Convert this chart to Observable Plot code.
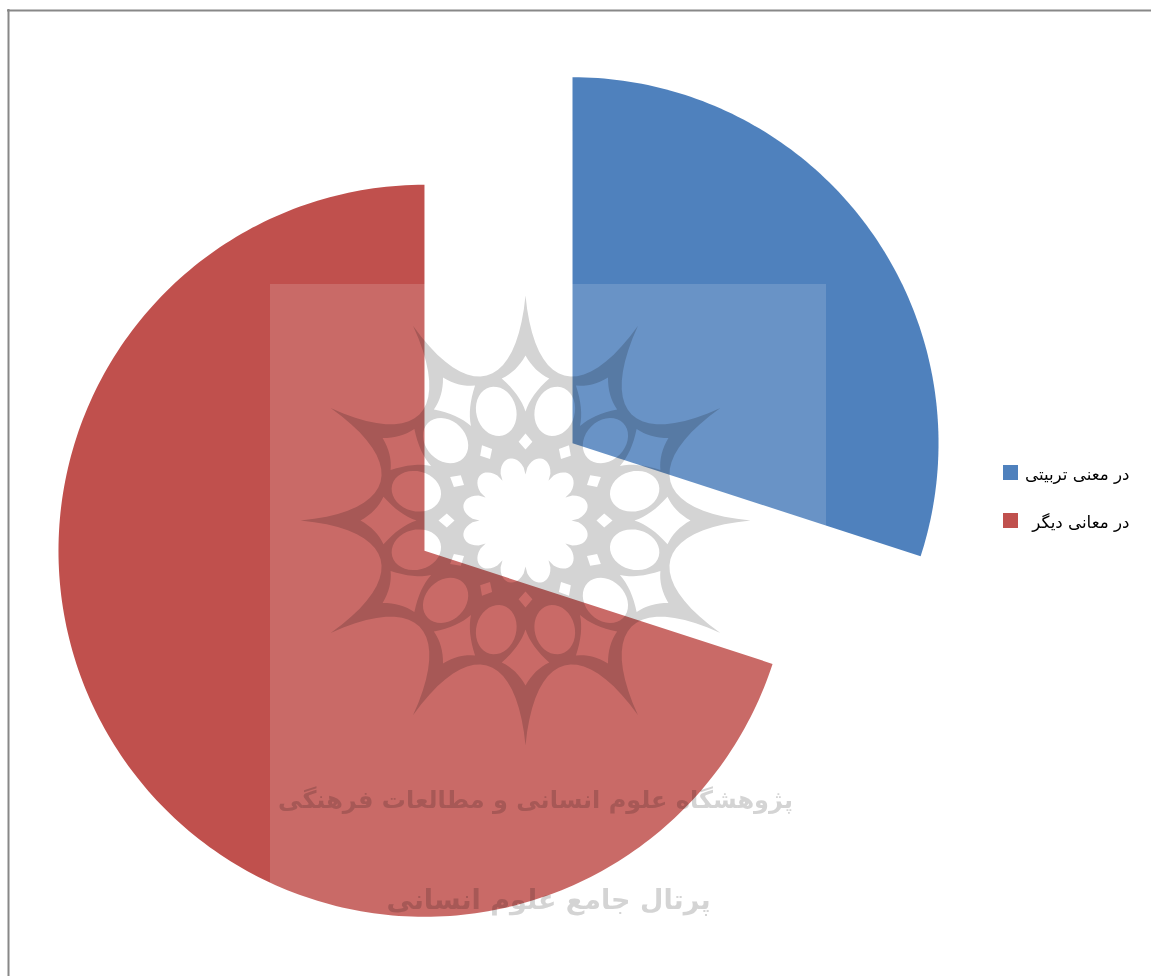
<!DOCTYPE html>
<html lang="fa">
<head>
<meta charset="utf-8">
<style>html,body{margin:0;padding:0;background:#fff}svg{display:block}svg path{fill-rule:evenodd}</style>
<script src="https://cdn.jsdelivr.net/npm/d3@7"></script>
<script src="https://cdn.jsdelivr.net/npm/@observablehq/plot@0.6"></script>
</head>
<body>
<script>
// Data
const categories = ["در معنی تربیتی", "در معانی دیگر"];
const shares = [30, 70];
const colors = ["#4F81BD", "#C0504D"];
const watermarkLines = ["پژوهشگاه علوم انسانی و مطالعات فرهنگی", "پرتال جامع علوم انسانی"];

// Layout
const W = 1151, H = 976;
const pieCenter = [498, 496.5], R = 366, explode = 91.5;
const wm = {cx: 525, cy: 520, x1: 270, x2: 826, y1: 284, y2: 976};
const rad = Math.PI / 180;

// Pie slices as outlines in chart units, through the x/y scales
const arcs = d3.pie().sort(null)(shares);
const pieRows = arcs.flatMap((a, i) => {
  const mid = (a.startAngle + a.endAngle) / 2;
  const ox = pieCenter[0] + explode * Math.sin(mid), oy = pieCenter[1] - explode * Math.cos(mid);
  const n = Math.ceil((a.endAngle - a.startAngle) / rad);
  const pts = [{x: ox, y: oy, name: categories[i]}];
  for (let k = 0; k <= n; k++) {
    const t = a.startAngle + (a.endAngle - a.startAngle) * k / n;
    pts.push({x: ox + R * Math.sin(t), y: oy - R * Math.cos(t), name: categories[i]});
  }
  return pts;
});

// Watermark emblem: one compound outline whose sub-paths leave holes
const polar = (r, deg) => [wm.cx + r * Math.sin(deg * rad), wm.cy - r * Math.cos(deg * rad)];
const quad = (p0, c, p1, n = 14) => d3.range(n + 1).map(k => {
  const t = k / n, u = 1 - t;
  return [u*u*p0[0] + 2*u*t*c[0] + t*t*p1[0], u*u*p0[1] + 2*u*t*c[1] + t*t*p1[1]];
});
const cubic = (p0, c0, c1, p1, n = 20) => d3.range(n + 1).map(k => {
  const t = k / n, u = 1 - t;
  const f = i => u*u*u*p0[i] + 3*u*u*t*c0[i] + 3*u*t*t*c1[i] + t*t*t*p1[i];
  return [f(0), f(1)];
});
const emblem = [];
const addPart = pts => {
  [...pts, pts[0]].forEach(p => emblem.push({x: p[0], y: p[1]}));
  emblem.push({x: NaN, y: NaN});
};
// star silhouette
addPart(d3.range(12).flatMap(k => {
  const a = k * 30;
  return cubic(polar(225, a), polar(130, a + 4), polar(130, a + 26), polar(225, a + 30));
}));
// outer diamond cells
d3.range(12).forEach(k => {
  const a = k * 30;
  const T = polar(165, a), Ri = polar(144, a + 9.5), B = polar(109, a), L = polar(144, a - 9.5);
  addPart([
    ...quad(T, polar(149, a + 3.5), Ri, 8),
    ...quad(Ri, polar(126, a + 2.5), B, 8),
    ...quad(B, polar(126, a - 2.5), L, 8),
    ...quad(L, polar(149, a - 3.5), T, 8)
  ]);
});
// oval cells
d3.range(12).forEach(k => {
  const a = k * 30 + 15, c = polar(113, a), ca = Math.cos(a * rad), sa = Math.sin(a * rad);
  addPart(d3.range(36).map(i => {
    const t = i * 10 * rad, u = 25 * Math.cos(t), v = 20 * Math.sin(t);
    return [c[0] + u * sa + v * ca, c[1] - u * ca + v * sa];
  }));
});
// small diamonds
d3.range(12).forEach(k => {
  const a = k * 30;
  addPart([polar(87, a), polar(79, a + 5), polar(71, a), polar(79, a - 5)]);
});
// central flower
addPart(d3.range(0, 360, 2).map(t => {
  const r = 46 + 18 * Math.pow(Math.abs(Math.cos((t - 15) * 6 * rad)), 0.6);
  return polar(r, t);
}));

// Legend rows
const legendRows = categories.map((name, i) => ({name, y: 472.5 + i * 48}));

const chart = Plot.plot({
  width: W, height: H, margin: 0,
  style: {background: "#fff"},
  x: {domain: [0, W], range: [0, W], axis: null},
  y: {domain: [0, H], range: [0, H], axis: null},
  color: {domain: categories, range: colors},
  marks: [
    Plot.line(pieRows, {x: "x", y: "y", z: "name", fill: "name", stroke: "none"}),
    Plot.rect([wm], {x1: "x1", x2: "x2", y1: "y1", y2: "y2", fill: "#fff", fillOpacity: 0.15}),
    Plot.line(emblem, {x: "x", y: "y", fill: "#d4d4d4", stroke: "none", mixBlendMode: "multiply"}),
    Plot.text([watermarkLines[0]], {
      x: 535, y: 800, text: d => d, fontFamily: "DejaVu Sans", fontSize: 24, fontWeight: "bold",
      fill: "#d4d4d4", textAnchor: "middle", mixBlendMode: "multiply"
    }),
    Plot.text([watermarkLines[1]], {
      x: 548, y: 900, text: d => d, fontFamily: "DejaVu Sans", fontSize: 27, fontWeight: "bold",
      fill: "#d4d4d4", textAnchor: "middle", mixBlendMode: "multiply"
    }),
    Plot.ruleX([8], {y1: 9, y2: H, stroke: "#888", strokeWidth: 2}),
    Plot.ruleY([10], {x1: 7, x2: W, stroke: "#888", strokeWidth: 2}),
    Plot.rect(legendRows, {x1: 1003, x2: 1018, y1: d => d.y - 7.5, y2: d => d.y + 7.5, fill: "name"}),
    Plot.text(legendRows, {
      x: 1129, y: d => d.y + 2, text: "name", textAnchor: "end",
      fontFamily: "DejaVu Sans", fontSize: 16.7, fill: "#000"
    })
  ]
});
document.body.appendChild(chart);
</script>
</body>
</html>
